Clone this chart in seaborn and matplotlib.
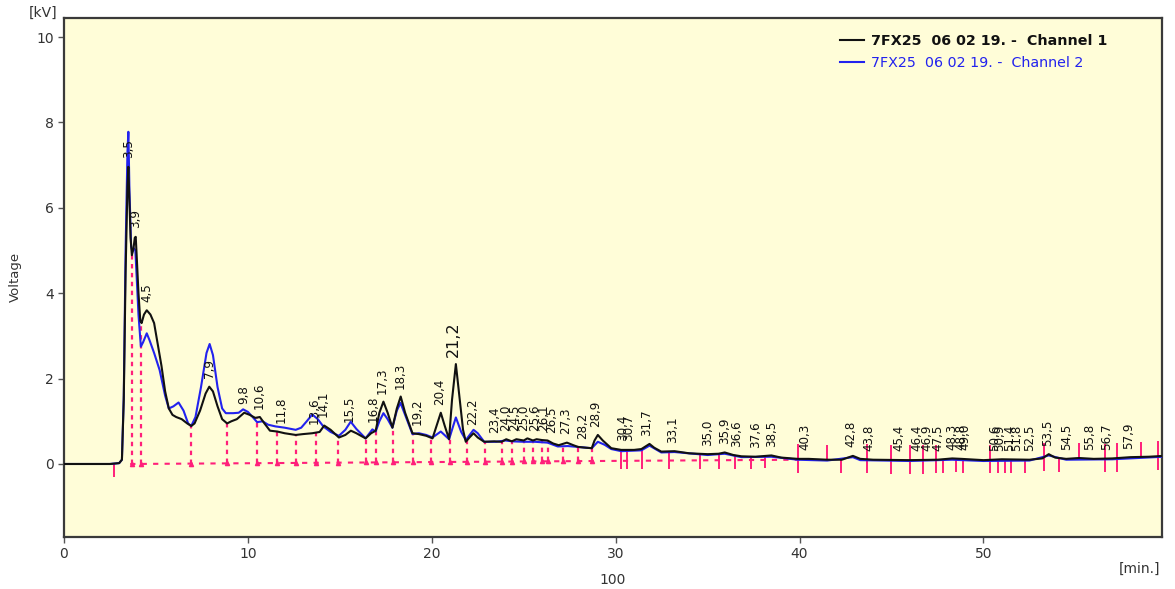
import numpy as np
import pandas as pd
import matplotlib
matplotlib.use("Agg")
import matplotlib.pyplot as plt
import seaborn as sns

# channel 1 (black) - time [min] / voltage [kV]
ch1_t = [0.0, 2.5, 3.0, 3.15, 3.25, 3.35, 3.45, 3.50, 3.55, 3.62, 3.69, 3.78, 3.85, 3.90, 3.95,
         4.05, 4.15, 4.22, 4.35, 4.5, 4.7, 4.9, 5.1, 5.3, 5.5, 5.7, 5.9, 6.1, 6.4, 6.7, 6.92,
         7.1, 7.4, 7.7, 7.9, 8.1, 8.35, 8.6, 8.87, 9.1, 9.4, 9.8, 10.1, 10.4, 10.65, 10.9, 11.2,
         11.6, 12.0, 12.6, 13.0, 13.5, 13.9, 14.15, 14.5, 14.95, 15.3, 15.6, 15.9, 16.4, 16.7,
         16.95, 17.15, 17.37, 17.6, 17.86, 18.1, 18.31, 18.55, 18.95, 19.3, 19.7, 20.04, 20.3,
         20.49, 20.7, 20.94, 21.1, 21.31, 21.5, 21.7, 21.85, 22.05, 22.27, 22.5, 22.85, 23.4,
         23.8, 24.05, 24.35, 24.6, 25.0, 25.2, 25.5, 25.7, 26.0, 26.3, 26.6, 26.9, 27.35, 27.7,
         27.95, 28.4, 28.7, 28.85, 29.03, 29.3, 29.76, 30.3, 31.0, 31.4, 31.84, 32.1, 32.48,
         33.2, 34.0, 35.0, 35.6, 35.93, 36.4, 36.84, 37.6, 38.47, 39.0, 39.9, 40.5, 41.5, 42.3,
         42.9, 43.3, 44.0, 46.0, 47.5, 48.3, 48.8, 50.0, 51.0, 52.5, 53.2, 53.55, 53.9, 54.5,
         55.2, 56.0, 57.0, 58.0, 59.0, 59.8]
ch1_v = [0.0, 0.0, 0.02, 0.1, 1.5, 4.5, 6.5, 6.96, 6.3, 5.3, 4.89, 5.05, 5.3, 5.32, 4.9,
         4.0, 3.35, 3.3, 3.5, 3.6, 3.5, 3.3, 2.8, 2.3, 1.7, 1.3, 1.15, 1.1, 1.05, 0.95, 0.89,
         0.95, 1.25, 1.65, 1.81, 1.7, 1.35, 1.05, 0.95, 1.0, 1.05, 1.2, 1.15, 1.08, 1.1, 0.95, 0.78,
         0.76, 0.72, 0.68, 0.70, 0.72, 0.75, 0.9, 0.8, 0.62, 0.68, 0.78, 0.72, 0.60, 0.72,
         0.78, 1.2, 1.46, 1.2, 0.85, 1.3, 1.58, 1.2, 0.72, 0.70, 0.66, 0.60, 0.95,
         1.20, 0.9, 0.58, 1.5, 2.34, 1.6, 0.8, 0.52, 0.62, 0.72, 0.62, 0.52, 0.53,
         0.52, 0.58, 0.53, 0.58, 0.55, 0.60, 0.55, 0.58, 0.56, 0.55, 0.48, 0.44, 0.50, 0.44,
         0.40, 0.38, 0.37, 0.55, 0.68, 0.55, 0.37, 0.33, 0.33, 0.35, 0.47, 0.38, 0.29,
         0.30, 0.25, 0.23, 0.24, 0.27, 0.21, 0.18, 0.17, 0.20, 0.15, 0.12, 0.12, 0.10, 0.10,
         0.19, 0.12, 0.10, 0.09, 0.10, 0.13, 0.12, 0.09, 0.11, 0.10, 0.13, 0.23, 0.15, 0.12,
         0.14, 0.12, 0.13, 0.16, 0.17, 0.19]

# channel 2 (blue)
ch2_t = [0.0, 2.5, 3.0, 3.15, 3.25, 3.35, 3.45, 3.50, 3.56, 3.65, 3.72, 3.80, 3.88, 3.95,
         4.05, 4.18, 4.3, 4.5, 4.65, 4.9, 5.2, 5.5, 5.7, 5.95, 6.23, 6.5, 6.75, 6.92, 7.15,
         7.45, 7.75, 7.92, 8.1, 8.35, 8.6, 8.8, 9.2, 9.5, 9.74, 10.0, 10.3, 10.5, 10.8, 11.1,
         11.5, 12.0, 12.6, 12.9, 13.2, 13.5, 13.8, 14.1, 14.5, 14.95, 15.3, 15.59, 15.9, 16.4,
         16.77, 16.95, 17.15, 17.37, 17.6, 17.86, 18.1, 18.3, 18.55, 18.95, 19.3, 19.7, 20.04,
         20.49, 20.94, 21.31, 21.6, 21.85, 22.27, 22.5, 22.85, 23.5, 24.0, 24.4, 25.0, 25.6,
         26.3, 26.85, 27.4, 27.93, 28.7, 29.03, 29.4, 29.76, 30.3, 31.4, 31.84, 32.48, 33.2,
         35.0, 35.93, 36.84, 38.47, 39.9, 41.5, 42.9, 43.3, 46.0, 48.3, 50.0, 52.5, 53.55,
         54.5, 57.0, 59.8]
ch2_v = [0.0, 0.0, 0.02, 0.1, 1.6, 5.0, 7.3, 7.78, 6.4, 5.1, 4.97, 5.05, 5.0, 4.4,
         3.5, 2.75, 2.85, 3.06, 2.9, 2.6, 2.2, 1.6, 1.3, 1.35, 1.44, 1.25, 0.95, 0.89, 1.1,
         1.8, 2.6, 2.81, 2.55, 1.8, 1.3, 1.19, 1.19, 1.2, 1.28, 1.22, 1.08, 0.98, 1.0, 0.92,
         0.88, 0.85, 0.8, 0.85, 1.0, 1.16, 1.05, 0.88, 0.75, 0.66, 0.8, 0.99, 0.82, 0.60,
         0.81, 0.76, 1.0, 1.19, 1.05, 0.85, 1.25, 1.43, 1.15, 0.70, 0.72, 0.68, 0.62,
         0.76, 0.58, 1.09, 0.75, 0.56, 0.80, 0.72, 0.52, 0.52, 0.55, 0.53, 0.52, 0.52,
         0.50, 0.41, 0.42, 0.40, 0.37, 0.52, 0.45, 0.35, 0.30, 0.32, 0.43, 0.27, 0.28,
         0.21, 0.24, 0.16, 0.17, 0.10, 0.08, 0.16, 0.09, 0.07, 0.10, 0.07, 0.08, 0.20,
         0.10, 0.11, 0.17]

# peak labels (retention times)
peak_labels = ["3,5", "3,9", "4,5", "7,9", "9,8", "10,6", "11,8", "13,6", "14,1", "15,5",
               "16,8", "17,3", "18,3", "19,2", "20,4", "21,2", "22,2", "23,4", "24,0", "24,5",
               "25,0", "25,6", "26,1", "26,5", "27,3", "28,2", "28,9", "30,4", "30,7", "31,7",
               "33,1", "35,0", "35,9", "36,6", "37,6", "38,5", "40,3", "42,8", "43,8", "45,4",
               "46,4", "46,9", "47,5", "48,3", "48,8", "49,0", "50,6", "50,9", "51,4", "51,8",
               "52,5", "53,5", "54,5", "55,8", "56,7", "57,9"]

# integration marks: dotted drops to the baseline, then short solid ticks
drop_times = [3.69, 4.2, 6.92, 8.87, 10.5, 11.57, 12.63, 13.68, 14.92, 16.42, 16.95, 17.87,
              18.97, 19.95, 20.97, 21.92, 22.9, 23.8, 24.36, 25.0, 25.49, 25.98, 26.34,
              27.16, 27.97, 28.74]
cut_times = [30.3, 30.6, 31.42, 32.92, 34.57, 35.6, 36.48, 37.38, 38.13]
tick_times = [2.7, 39.93, 41.47, 42.25, 43.69, 45.0, 46.0, 46.7, 47.4, 47.8, 48.5, 48.9,
              50.37, 50.8, 51.16, 51.5, 52.25, 53.28, 54.1, 55.2, 56.6, 57.25, 58.57, 59.5]
tick_dirs = ["down", "both", "up", "down", "both", "both", "both", "both", "both", "down",
             "down", "down", "both", "down", "down", "down", "down", "both", "down", "up",
             "both", "both", "up", "both"]
baseline_t = [3.6, 40.0]
baseline_v = [0.0, 0.1]

PINK = "#ff1f7a"
BLACK = "#111111"
BLUE = "#2222ee"

df1 = pd.DataFrame({"time": ch1_t, "volt": ch1_v})
df2 = pd.DataFrame({"time": ch2_t, "volt": ch2_v})

fig = plt.figure(figsize=(11.75, 5.89), dpi=100)
ax = fig.add_axes([64 / 1175, 1 - 537 / 589, 1098 / 1175, 519 / 589])
ax.set_facecolor("#fffdd8")
plt.rcParams["font.family"] = ["DejaVu Sans"]

# baseline + integration marks
ax.plot(baseline_t, baseline_v, color=PINK, lw=1.5, ls=(0, (2.5, 3)), zorder=1)
drop_t = np.array(drop_times)
drop_base = np.interp(drop_t, baseline_t, baseline_v)
drop_top = np.interp(drop_t, ch1_t, ch1_v)
ax.vlines(drop_t, drop_base, drop_top, color=PINK, lw=1.6, ls=(0, (2, 2)), zorder=1)
ax.plot(drop_t, drop_base, ls="none", marker="^", ms=3, color=PINK, zorder=1)

cut_t = np.array(cut_times)
ax.vlines(cut_t, np.interp(cut_t, baseline_t, baseline_v) - 0.2,
          np.interp(cut_t, ch1_t, ch1_v), color=PINK, lw=1.4, zorder=1)

tk_t = np.array(tick_times)
tk_v = np.interp(tk_t, ch1_t, ch1_v)
dirs = np.array(tick_dirs)
lo = np.where(dirs == "up", tk_v, tk_v - 0.32)
hi = np.where(dirs == "down", tk_v, tk_v + 0.35)
ax.vlines(tk_t, lo, hi, color=PINK, lw=1.4, zorder=1)

# the two channels
sns.lineplot(data=df2, x="time", y="volt", color=BLUE, lw=1.5, ax=ax,
             label="7FX25  06 02 19. -  Channel 2", estimator=None, zorder=3)
sns.lineplot(data=df1, x="time", y="volt", color=BLACK, lw=1.5, ax=ax,
             label="7FX25  06 02 19. -  Channel 1", estimator=None, zorder=4)

# peak labels, sitting just above the channel 1 trace
for lab in peak_labels:
    t = float(lab.replace(",", "."))
    win = np.linspace(t - 0.12, t + 0.12, 13)
    top = np.interp(win, ch1_t, ch1_v).max()
    fs = 11.5 if lab == "21,2" else 8.6
    ax.text(t, top + 0.2, lab, rotation=90, ha="center", va="bottom",
            fontsize=fs, color="#111111", zorder=5)

ax.set_xlim(0, 59.71)
ax.set_ylim(-1.71, 10.445)
ax.set_xticks([0, 10, 20, 30, 40, 50])
ax.set_yticks([0, 2, 4, 6, 8, 10])
ax.tick_params(direction="out", length=4.5, width=1, color="#555555",
               labelcolor="#333333", labelsize=10, pad=3)
for s in ax.spines.values():
    s.set_color("#3a3a3a")
    s.set_linewidth(1.6)

ax.set_xlabel("100", fontsize=10, color="#333333", labelpad=8)
ax.set_ylabel("")
fig.text(15 / 1175, 1 - 277 / 589, "Voltage", rotation=90, ha="center", va="center",
         fontsize=9.5, color="#333333")
fig.text(57 / 1175, 1 - 13 / 589, "[kV]", ha="right", va="center", fontsize=10, color="#333333")
fig.text(1160 / 1175, 1 - 569 / 589, "[min.]", ha="right", va="center", fontsize=10, color="#333333")

h, l = ax.get_legend_handles_labels()
leg = ax.legend(h[::-1], l[::-1], loc="upper left", bbox_to_anchor=(0.70, 0.982),
                frameon=False, handlelength=1.7, handletextpad=0.5, labelspacing=0.5,
                borderpad=0, prop={"family": "DejaVu Sans", "size": 10.3})
leg.get_texts()[0].set_fontweight("bold")
leg.get_texts()[0].set_color(BLACK)
leg.get_texts()[1].set_color(BLUE)

fig.savefig("out.png", dpi=100, facecolor="white")
